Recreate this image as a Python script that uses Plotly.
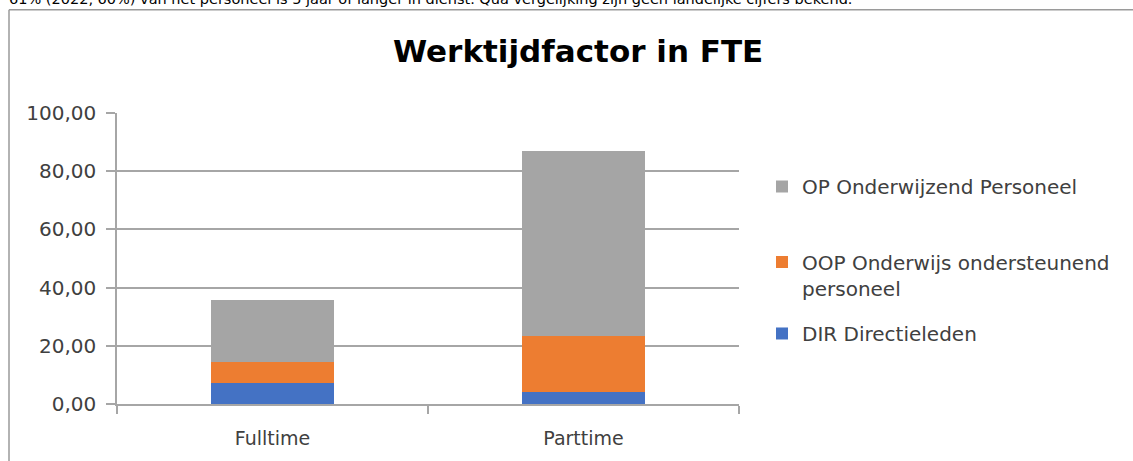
import plotly.graph_objects as go

categories = ["Fulltime", "Parttime"]
dir_values = [7.2, 4.0]
oop_values = [7.1, 19.2]
op_values = [21.6, 63.8]
series_names = ["DIR Directieleden", "OOP Onderwijs ondersteunend<br>personeel", "OP Onderwijzend Personeel"]
series_colors = ["#4472C4", "#ED7D31", "#A5A5A5"]
y_ticks = [0, 20, 40, 60, 80, 100]
title_text = "Werktijdfactor in FTE"
top_text = "61% (2022, 60%) van het personeel is 5 jaar of langer in dienst. Qua vergelijking zijn geen landelijke cijfers bekend."

# body margin is removed below, so figure starts at screen (0, 0)
W, H = 1133, 461
# plot area in screen pixels: x 117..739, y 113..406
L, T = 117, 113
pw, ph = 622, 293
R = W - L - pw
B = H - T - ph

def px_x(sx):
    return (sx - L) / pw

def px_y(sy):
    return (T + ph - sy) / ph

FONT = "DejaVu Sans"
GRID = "#A6A6A6"
TXT = "#404040"

fig = go.Figure()
legend_ids = ["legend3", "legend2", "legend"]
for vals, name, color, lg in zip([dir_values, oop_values, op_values], series_names, series_colors, legend_ids):
    fig.add_trace(go.Bar(
        x=categories, y=vals, name=name, marker=dict(color=color, line=dict(width=0)),
        legend=lg,
    ))

legend_common = dict(
    xref="paper", yref="paper", bgcolor="rgba(0,0,0,0)",
    font=dict(family=FONT, size=20, color=TXT),
    itemclick=False, itemdoubleclick=False, valign="top",
)
LEGX = px_x(762)

fig.update_layout(
    width=W, height=H,
    margin=dict(l=L, r=R, t=T, b=B, pad=0),
    paper_bgcolor="white", plot_bgcolor="white",
    barmode="stack", bargap=0.605,
    separators=",.",
    showlegend=True,
    legend=dict(x=LEGX, y=px_y(187), xanchor="left", yanchor="middle", **legend_common),
    legend2=dict(x=LEGX, y=px_y(276), xanchor="left", yanchor="middle", **legend_common),
    legend3=dict(x=LEGX, y=px_y(335), xanchor="left", yanchor="middle", **legend_common),
    xaxis=dict(
        showline=True, linecolor=GRID, linewidth=1.5,
        ticks="outside", tickson="boundaries", ticklen=8, tickcolor=GRID, tickwidth=1.5,
        tickfont=dict(family=FONT, size=19, color=TXT),
        ticklabelstandoff=16,
        showgrid=False,
    ),
    yaxis=dict(
        range=[0, 100], tickvals=y_ticks, tickformat=".2f",
        showgrid=True, gridcolor=GRID, gridwidth=1.5,
        showline=True, linecolor=GRID, linewidth=1.5,
        ticks="outside", ticklen=9, tickcolor=GRID, tickwidth=1.5,
        tickfont=dict(family=FONT, size=20, color=TXT),
        ticklabelstandoff=6,
        zeroline=False,
    ),
    annotations=[
        dict(text="<b>" + title_text + "</b>", xref="paper", yref="paper",
             x=px_x(578), y=px_y(51), xanchor="center", yanchor="middle",
             showarrow=False, font=dict(family=FONT, size=31, color="#000000")),
        dict(text=top_text, xref="paper", yref="paper",
             x=px_x(7), y=px_y(8), xanchor="left", yanchor="bottom",
             showarrow=False, font=dict(family=FONT, size=14.5, color="#000000")),
    ],
    shapes=[
        dict(type="line", xref="paper", yref="paper", x0=px_x(9), x1=px_x(9), y0=px_y(9), y1=px_y(470),
             line=dict(color="#9A9A9A", width=1.5)),
        dict(type="line", xref="paper", yref="paper", x0=px_x(9), x1=px_x(1140), y0=px_y(9), y1=px_y(9),
             line=dict(color="#9A9A9A", width=1.5)),
    ],
)

fig.write_html("out.html", config={"displayModeBar": False},
               post_script="document.body.style.margin='0';document.body.style.overflow='hidden';")
